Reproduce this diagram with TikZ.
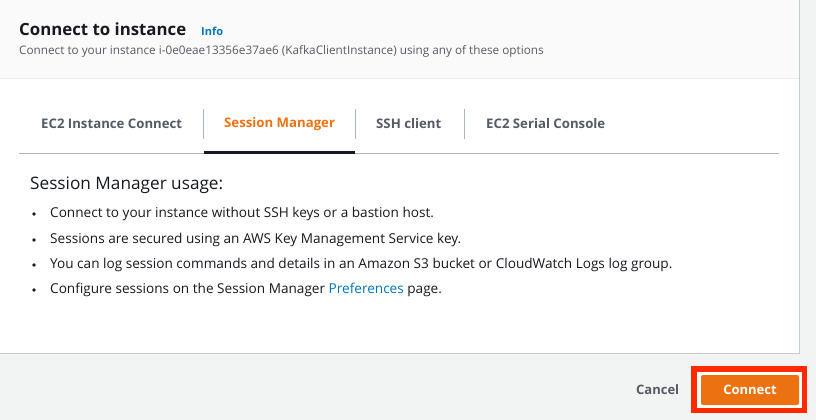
\documentclass[tikz,border=0pt]{standalone}
\usepackage{fontspec}
\setmainfont{Open Sans}
\definecolor{hdrbg}{HTML}{FAFAFA}
\definecolor{pagebg}{HTML}{F2F3F3}
\definecolor{ink}{HTML}{16191F}
\definecolor{subink}{HTML}{545B64}
\definecolor{awsorange}{HTML}{EC7211}
\definecolor{awsblue}{HTML}{0073BB}
\definecolor{divider}{HTML}{AAB7B8}
\definecolor{hdrline}{HTML}{EAEDED}
\definecolor{hilite}{HTML}{FF2A00}
\tikzset{
  txt/.style={inner sep=0pt, anchor=west, text=ink},
  tabtxt/.style={txt, font=\fontsize{13.2}{15}\selectfont\bfseries, text=subink},
  bul/.style={txt, font=\fontsize{13.6}{16}\selectfont},
  dot/.style={circle, fill=ink, inner sep=0pt, minimum size=3.6pt},
  tabsep/.style={draw=divider, line width=1pt},
}
\begin{document}
\begin{tikzpicture}[x=1pt,y=-1pt]
\useasboundingbox (0,0) rectangle (816,420);
% backgrounds
\fill[pagebg] (0,0) rectangle (816,420);
\fill[hdrbg] (0,0) rectangle (799,78);
\fill[white] (0,78) rectangle (799,353);
\draw[hdrline, line width=1pt] (0,78) -- (799,78);
\draw[divider!70, line width=1pt] (799,0) -- (799,353) -- (0,353);
% header
\node[txt, font=\fontsize{16.8}{19}\selectfont\bfseries] (title) at (19,29) {Connect to instance};
\node[txt, font=\fontsize{11}{13}\selectfont\bfseries, text=awsblue] (info) at (201,31) {Info};
\node[txt, font=\fontsize{11.75}{14}\selectfont, text=subink] (sub) at (19,51) {Connect to your instance i-0e0eae13356e37ae6 (KafkaClientInstance) using any of these options};
% tabs
\node[tabtxt] (t1) at (41,124) {EC2 Instance Connect};
\node[tabtxt, text=awsorange] (t2) at (224,124) {Session Manager};
\node[tabtxt] (t3) at (376,124) {SSH client};
\node[tabtxt] (t4) at (486,124) {EC2 Serial Console};
\coordinate (d1a) at (203,109); \coordinate (d1b) at (203,139);
\coordinate (d2a) at (355.5,109); \coordinate (d2b) at (355.5,139);
\coordinate (d3a) at (464.5,109); \coordinate (d3b) at (464.5,139);
\draw[tabsep] (d1a) -- (d1b);
\draw[tabsep] (d2a) -- (d2b);
\draw[tabsep] (d3a) -- (d3b);
\coordinate (ba) at (19,153); \coordinate (bb) at (779,153);
\draw[divider, line width=1pt] (ba) -- (bb);
\coordinate (ua) at (204,152); \coordinate (ub) at (355,152);
\draw[ink, line width=3pt] (ua) -- (ub);
% content
\node[txt, font=\fontsize{17.2}{20}\selectfont] (usage) at (30,185) {Session Manager usage:};
\node[dot] (b1) at (34,214) {};
\node[bul] (l1) at (50,214) {Connect to your instance without SSH keys or a bastion host.};
\node[dot] (b2) at (34,240) {};
\node[bul] (l2) at (50,240) {Sessions are secured using an AWS Key Management Service key.};
\node[dot] (b3) at (34,265) {};
\node[bul] (l3) at (50,265) {You can log session commands and details in an Amazon S3 bucket or CloudWatch Logs log group.};
\node[dot] (b4) at (34,290) {};
\node[bul] (l4) at (50,290) {Configure sessions on the Session Manager \textcolor{awsblue}{Preferences} page.};
% footer buttons
\node[txt, font=\fontsize{13}{15}\selectfont\bfseries, text=subink] (cancel) at (636,390) {Cancel};
\node[draw=hilite, fill=white, line width=5.5pt, minimum width=110.5pt, minimum height=41.5pt, inner sep=0pt] (hl) at (749,389.5) {};
\node[fill=awsorange, rounded corners=2pt, minimum width=98pt, minimum height=30pt, inner sep=0pt, text=white, font=\fontsize{13}{15}\selectfont\bfseries] (connect) at (750,390) {Connect};
\end{tikzpicture}
\end{document}
